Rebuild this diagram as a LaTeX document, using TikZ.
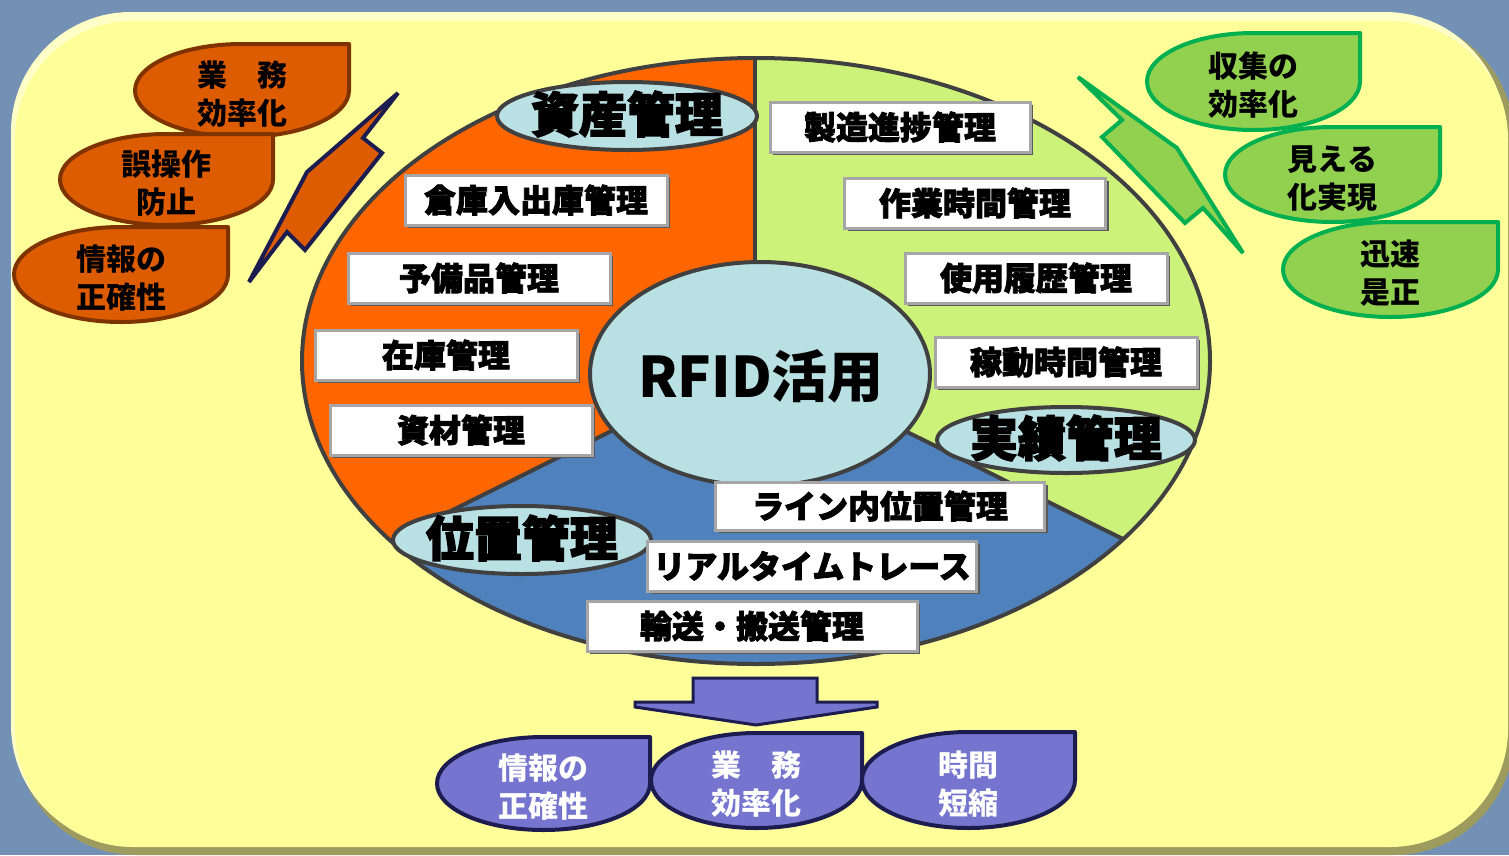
\documentclass[tikz,border=0pt]{standalone}
\usepackage{fontspec}
\setmainfont{Noto Sans CJK JP}
\newfontfamily\jp{Noto Sans CJK JP}
\newfontfamily\jpheavy{Noto Sans CJK JP}[BoldFeatures={FakeBold=2.5}]
\newfontfamily\jplab{Noto Sans CJK JP}[BoldFeatures={FakeBold=3}]
\usetikzlibrary{shadows}
\definecolor{bgblue}{HTML}{7390B5}
\definecolor{yel}{HTML}{FFFF99}
\definecolor{rim}{HTML}{FFFFC8}
\definecolor{olive}{HTML}{9D9B5E}
\definecolor{secorange}{HTML}{FF6600}
\definecolor{secgreen}{HTML}{CCF27A}
\definecolor{secblue}{HTML}{4F81BD}
\definecolor{lblue}{HTML}{B9E0E3}
\definecolor{dgray}{HTML}{404040}
\definecolor{borange}{HTML}{DD5C00}
\definecolor{brown}{HTML}{7F3300}
\definecolor{bgreen}{HTML}{92D050}
\definecolor{dgreen}{HTML}{00B050}
\definecolor{bpurple}{HTML}{7575CF}
\definecolor{navy}{HTML}{1C1C50}
\tikzset{
  obub/.style={fill=borange,draw=brown,line width=4pt,line join=round},
  gbub/.style={fill=bgreen,draw=dgreen,line width=4pt,line join=round},
  pbub/.style={fill=bpurple,draw=navy,line width=4pt,line join=round},
  bubtext/.style={align=center,inner sep=0pt,font=\jp\bfseries\fontsize{30}{38}\selectfont},
  tbox/.style={fill=white,draw=black!35,line width=3pt,inner sep=0pt,
    minimum height=50pt,font=\jpheavy\bfseries\fontsize{32}{36}\selectfont,
    drop shadow={shadow xshift=3pt,shadow yshift=-3pt,fill=black!65,opacity=1}},
  lab/.style={fill=lblue,draw=dgray,line width=4pt},
  labtext/.style={inner sep=0pt,font=\jplab\bfseries\fontsize{48}{52}\selectfont},
  bolt/.style={line width=4pt,line join=miter}
}
\newcommand\bub[7]{%
  \draw[#6] ({#2+#4},#3) arc[start angle=0,end angle=270,x radius=#4,y radius=#5]
    -- ({#2+#4},{#3-#5}) -- cycle;
  \node[bubtext,#1] at (#2,{#3+4}) {#7};}
\begin{document}
\begin{tikzpicture}[x=1pt,y=-1pt]
\useasboundingbox (0,0) rectangle (1509,855);
% background
\fill[bgblue] (0,0) rectangle (1509,855);
\fill[olive,rounded corners=120pt] (16,18) rectangle (1514,855);
\fill[rim,rounded corners=120pt] (11,12) rectangle (1505,845);
\fill[yel,rounded corners=118pt] (15,21) rectangle (1508,847);
% big ellipse sectors
\begin{scope}
  \clip (756,361) ellipse [x radius=454, y radius=303];
  \fill[secorange] (290,50) rectangle (756,680);
  \fill[secgreen] (756,50) rectangle (1220,680);
  \fill[secblue] (758,358) -- (250,611) -- (250,700) -- (1260,700) -- (1260,607) -- cycle;
  \draw[dgray,line width=4pt] (755,50) -- (755,320);
  \draw[dgray,line width=4pt] (758,358) -- (250,611);
  \draw[dgray,line width=4pt] (758,358) -- (1260,607);
\end{scope}
\draw[dgray,line width=4pt] (756,361) ellipse [x radius=454, y radius=303];
% center circle
\draw[lab] (760,374) ellipse [x radius=170, y radius=112];
\node[inner sep=0pt,font=\jp\bfseries\fontsize{56}{60}\selectfont] (rfid) at (761,376) {RFID活用};
% category labels
\draw[lab] (627,116) ellipse [x radius=130, y radius=34];
\node[labtext] (shisan) at (627,114) {資産管理};
\draw[lab] (1066,440) ellipse [x radius=129, y radius=33];
\node[labtext] (jisseki) at (1066,438) {実績管理};
\draw[lab] (522,540) ellipse [x radius=129, y radius=34];
\node[labtext] (ichi) at (522,538) {位置管理};
% boxes
\node[tbox,minimum width=262pt] (b1) at (536,200) {倉庫入出庫管理};
\node[tbox,minimum width=262pt] (b2) at (479,278) {予備品管理};
\node[tbox,minimum width=262pt] (b3) at (446,355) {在庫管理};
\node[tbox,minimum width=262pt] (b4) at (461,430) {資材管理};
\node[tbox,minimum width=260pt] (b5) at (900,127) {製造進捗管理};
\node[tbox,minimum width=261pt] (b6) at (975,203) {作業時間管理};
\node[tbox,minimum width=262pt] (b7) at (1036,278) {使用履歴管理};
\node[tbox,minimum width=262pt] (b8) at (1066,362) {稼動時間管理};
\node[tbox,minimum width=329pt,minimum height=48pt] (b9) at (880,506) {ライン内位置管理};
\node[tbox,minimum width=329pt] (b10) at (812,566) {リアルタイムトレース};
\node[tbox,minimum width=330pt] (b11) at (752,626) {輸送・搬送管理};
% lightning bolts
\draw[bolt,fill=borange,draw=navy] (398,93) -- (363,138) -- (382,153) -- (305,250) -- (287,232) -- (249,282) -- (307,172) -- cycle;
\draw[bolt,fill=bgreen,draw=dgreen] (1078,77) -- (1122,120) -- (1102,137) -- (1185,223) -- (1203,208) -- (1243,253) -- (1177,148) -- cycle;
% orange bubbles
\bub{name=o1}{242}{90.5}{107}{46.5}{obub}{業　務\\効率化}
\bub{name=o2}{166.5}{179.5}{106.5}{45.5}{obub}{誤操作\\防止}
\bub{name=o3}{121}{274.5}{107}{47.5}{obub}{情報の\\正確性}
% green bubbles
\bub{name=g1}{1253.5}{81.5}{106.5}{48.5}{gbub}{収集の\\効率化}
\bub{name=g2}{1332.5}{174.5}{107.5}{47.5}{gbub}{見える\\化実現}
\bub{name=g3}{1390.5}{269.5}{107.5}{47.5}{gbub}{迅速\\是正}
% down arrow
\draw[fill=bpurple,draw=navy,line width=3pt,line join=miter] (693,678) -- (817,678) -- (817,702) -- (877,702) -- (877,707) -- (756,725) -- (635,707) -- (635,702) -- (693,702) -- cycle;
% purple bubbles
\bub{name=p1,text=white}{543.5}{783.5}{106.5}{46.5}{pbub}{情報の\\正確性}
\bub{name=p2,text=white}{756.5}{780.5}{105.5}{47.5}{pbub}{業　務\\効率化}
\bub{name=p3,text=white}{968.5}{780}{106.5}{48}{pbub}{時間\\短縮}
\end{tikzpicture}
\end{document}
